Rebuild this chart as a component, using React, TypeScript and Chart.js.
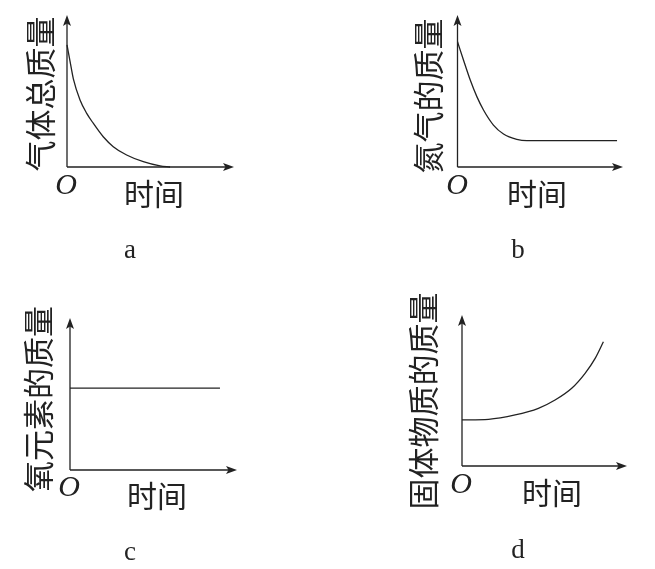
import React, { useEffect, useRef } from "react";
import { Chart, registerables } from "chart.js";

Chart.register(...registerables);

// ---- data (x: time units 0..10, y: mass units 0..10) ----
const aTime = [0, 0.24, 0.38, 0.78, 1.18, 1.57, 2.17, 2.77, 3.57, 4.57, 5.57, 6.17];
const aMass = [8.03, 6.6, 5.8, 4.41, 3.53, 2.88, 1.99, 1.34, 0.79, 0.35, 0.07, 0];

const bTime = [0, 0.36, 0.77, 1.17, 1.57, 2.17, 2.78, 3.58, 4.19, 9.64];
const bMass = [8.24, 7.04, 5.72, 4.63, 3.75, 2.76, 2.17, 1.82, 1.73, 1.73];

const cTime = [0, 8.98];
const cMass = [5.39, 5.39];

const dTime = [0, 1.61, 3.22, 4.63, 5.64, 6.65, 7.46, 8.07, 8.57];
const dMass = [3.05, 3.09, 3.38, 3.82, 4.37, 5.15, 6.14, 7.13, 8.23];

const yTitles = ["气体总质量", "氮气的质量", "氧元素的质量", "固体物质的质量"];
const xTitle = "时间";
const originLabel = "O";
const captions = ["a", "b", "c", "d"];

const W = 655;
const H = 569;
const INK = "#222";

type PanelCfg = {
  time: number[];
  mass: number[];
  area: { l: number; r: number; t: number; b: number };
  yTitlePos: [number, number];
  xTitlePos: [number, number];
  originPos: [number, number];
  captionPos: [number, number];
};

const panels: PanelCfg[] = [
  {
    time: aTime, mass: aMass,
    area: { l: 67, r: 234, t: 15, b: 167 },
    yTitlePos: [40, 94], xTitlePos: [154, 194], originPos: [66, 186], captionPos: [130, 258],
  },
  {
    time: bTime, mass: bMass,
    area: { l: 457.5, r: 623, t: 15, b: 167 },
    yTitlePos: [428, 96], xTitlePos: [537, 194], originPos: [457, 186], captionPos: [518, 258],
  },
  {
    time: cTime, mass: cMass,
    area: { l: 70, r: 237, t: 318, b: 470 },
    yTitlePos: [38, 399], xTitlePos: [157, 496], originPos: [69, 488], captionPos: [130, 560],
  },
  {
    time: dTime, mass: dMass,
    area: { l: 462, r: 627, t: 315, b: 466 },
    yTitlePos: [423, 401], xTitlePos: [552, 493], originPos: [461, 485], captionPos: [518, 558],
  },
];

function arrowHead(ctx: CanvasRenderingContext2D, x: number, y: number, dir: "up" | "right") {
  const len = 11;
  const half = 4;
  const notch = 2.5;
  ctx.beginPath();
  if (dir === "right") {
    ctx.moveTo(x, y);
    ctx.lineTo(x - len, y - half);
    ctx.lineTo(x - len + notch, y);
    ctx.lineTo(x - len, y + half);
  } else {
    ctx.moveTo(x, y);
    ctx.lineTo(x - half, y + len);
    ctx.lineTo(x, y + len - notch);
    ctx.lineTo(x + half, y + len);
  }
  ctx.closePath();
  ctx.fill();
}

function makeDecor(cfg: PanelCfg, idx: number) {
  return {
    id: "decor" + idx,
    afterDatasetsDraw(chart: any) {
      const ctx: CanvasRenderingContext2D = chart.ctx;
      const xs = chart.scales.x;
      const ys = chart.scales.y;
      const x0 = xs.getPixelForValue(0);
      const y0 = ys.getPixelForValue(0);
      const xEnd = xs.getPixelForValue(10);
      const yEnd = ys.getPixelForValue(10);
      ctx.save();
      ctx.strokeStyle = INK;
      ctx.fillStyle = INK;
      ctx.lineWidth = 1.3;
      ctx.beginPath();
      ctx.moveTo(x0, y0);
      ctx.lineTo(xEnd - 6, y0);
      ctx.moveTo(x0, y0);
      ctx.lineTo(x0, yEnd + 6);
      ctx.stroke();
      arrowHead(ctx, xEnd, y0, "right");
      arrowHead(ctx, x0, yEnd, "up");

      ctx.fillStyle = "#222";
      ctx.textAlign = "center";
      ctx.textBaseline = "middle";
      // y title (rotated)
      ctx.save();
      ctx.translate(cfg.yTitlePos[0], cfg.yTitlePos[1]);
      ctx.rotate(-Math.PI / 2);
      ctx.font = '31px "Noto Sans CJK SC"';
      ctx.fillText(yTitles[idx], 0, 0);
      ctx.restore();
      // x title
      ctx.font = '30px "Noto Sans CJK SC"';
      ctx.fillText(xTitle, cfg.xTitlePos[0], cfg.xTitlePos[1]);
      // origin
      ctx.font = 'italic 30px "Liberation Serif"';
      ctx.fillText(originLabel, cfg.originPos[0], cfg.originPos[1]);
      // caption
      ctx.textBaseline = "alphabetic";
      ctx.font = '27px "Liberation Serif"';
      ctx.fillText(captions[idx], cfg.captionPos[0], cfg.captionPos[1]);
      ctx.restore();
    },
  };
}

export default function App() {
  const refs = [useRef<HTMLCanvasElement>(null), useRef<HTMLCanvasElement>(null), useRef<HTMLCanvasElement>(null), useRef<HTMLCanvasElement>(null)];

  useEffect(() => {
    document.body.style.margin = "0";
    document.body.style.background = "#fff";
    const charts: Chart[] = [];
    panels.forEach((cfg, i) => {
      const canvas = refs[i].current;
      if (!canvas) return;
      const chart = new Chart(canvas, {
        type: "line",
        data: {
          datasets: [
            {
              data: cfg.time.map((t, k) => ({ x: t, y: cfg.mass[k] })),
              borderColor: INK,
              borderWidth: 1.3,
              pointRadius: 0,
              fill: false,
              cubicInterpolationMode: "monotone",
              clip: false as any,
            },
          ],
        },
        options: {
          responsive: false,
          animation: false,
          layout: {
            padding: { left: cfg.area.l, right: W - cfg.area.r, top: cfg.area.t, bottom: H - cfg.area.b },
          },
          plugins: { legend: { display: false }, tooltip: { enabled: false }, title: { display: false } },
          events: [],
          scales: {
            x: { type: "linear", min: 0, max: 10, display: false },
            y: { type: "linear", min: 0, max: 10, display: false },
          },
        },
        plugins: [makeDecor(cfg, i)],
      });
      charts.push(chart);
    });
    return () => charts.forEach((c) => c.destroy());
  }, []);

  return (
    <div style={{ position: "relative", width: W, height: H, background: "#fff" }}>
      {refs.map((r, i) => (
        <canvas key={i} ref={r} width={W} height={H} style={{ position: "absolute", left: 0, top: 0 }} />
      ))}
    </div>
  );
}
